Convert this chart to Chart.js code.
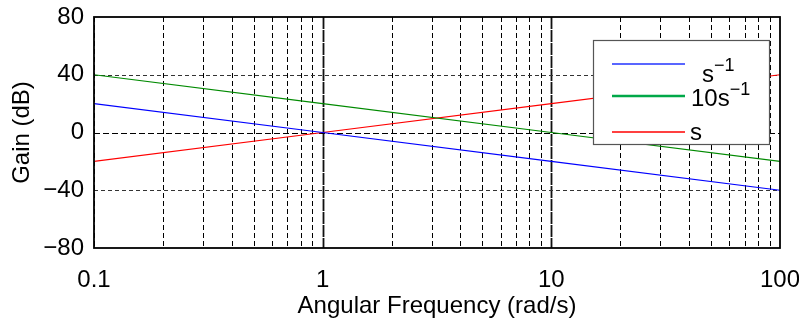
<!DOCTYPE html>
<html><head><meta charset="utf-8">
<script src="https://cdn.jsdelivr.net/npm/chart.js@4"></script>
<style>html,body{margin:0;padding:0;background:#fff;overflow:hidden}</style>
</head><body><canvas id="c" width="799" height="321"></canvas>
<script>
// ---- data ----
const frequencies = [0.1, 1, 10, 100];
const gainInvS   = [20, 0, -20, -40];   // s^-1
const gain10InvS = [40, 20, 0, -20];    // 10 s^-1
const gainS      = [-20, 0, 20, 40];    // s
const seriesBase  = ['s', '10s', 's'];
const seriesSuper = ['\u22121', '\u22121', ''];
const xTickValues = [0.1,0.2,0.3,0.4,0.5,0.6,0.7,0.8,0.9,1,2,3,4,5,6,7,8,9,10,20,30,40,50,60,70,80,90,100];
const xLabelValues = [0.1, 1, 10, 100];
const xTickLabels = ['0.1', '1', '10', '100'];
const yTickValues = [-80, -40, 0, 40, 80];
const yTickLabels = ['\u221280', '\u221240', '0', '40', '80'];
const xTitle = 'Angular Frequency (rad/s)';
const yTitle = 'Gain (dB)';

const FONT = "'Liberation Sans', Arial, sans-serif";
const colors = ['#0000ff', '#008a00', '#ff0000'];
const legendColors = ['#2233ff', '#00a848', '#ff0000'];
const legendWidths = [1.5, 2.5, 1.5];

function pts(ys){ return frequencies.map((f,i)=>({x:f, y:ys[i]})); }

const gridPlugin = {
  id: 'gridPlugin',
  beforeDatasetsDraw(chart){
    const {ctx, chartArea:a, scales:{x, y}} = chart;
    ctx.save();
    ctx.beginPath(); ctx.rect(a.left, a.top, a.right-a.left, a.bottom-a.top); ctx.clip();
    xTickValues.forEach(v=>{
      const px = Math.round(x.getPixelForValue(v)) + 0.5;
      const major = (v===1 || v===10);
      ctx.beginPath();
      ctx.strokeStyle = major ? '#111' : '#000';
      ctx.lineWidth = major ? 1.8 : 1;
      ctx.setLineDash(major ? [12,1] : [5,3]);
      ctx.moveTo(px, a.top); ctx.lineTo(px, a.bottom); ctx.stroke();
    });
    yTickValues.forEach(v=>{
      if (v===-80 || v===80) return;
      const py = Math.round(y.getPixelForValue(v)) + 0.5;
      ctx.beginPath();
      ctx.strokeStyle = v===0 ? '#000' : '#333';
      ctx.lineWidth = 1;
      ctx.setLineDash(v===0 ? [6,3] : [4,3]);
      ctx.moveTo(a.left, py); ctx.lineTo(a.right, py); ctx.stroke();
    });
    ctx.restore();
  },
  afterDatasetsDraw(chart){
    const {ctx, chartArea:a} = chart;
    ctx.save();
    ctx.strokeStyle = '#000'; ctx.lineWidth = 1.8; ctx.setLineDash([]);
    ctx.strokeRect(a.left, a.top, a.right-a.left, a.bottom-a.top);
    // legend
    const bx = a.right - 187, by = a.top + 23, bw = 176, bh = 104;
    ctx.fillStyle = '#fff';
    ctx.fillRect(bx, by, bw, bh);
    ctx.strokeStyle = '#555'; ctx.lineWidth = 1.2;
    ctx.strokeRect(bx+0.5, by+0.5, bw, bh);
    const lineY = [24, 56, 92];
    const textX = [109, 98, 97];
    const baseY = [42, 66, 100];
    chart.data.datasets.forEach((ds, i)=>{
      ctx.beginPath();
      ctx.strokeStyle = legendColors[i]; ctx.lineWidth = legendWidths[i];
      ctx.moveTo(bx+19, by+lineY[i]); ctx.lineTo(bx+92, by+lineY[i]); ctx.stroke();
      ctx.fillStyle = '#000';
      ctx.textBaseline = 'alphabetic'; ctx.textAlign = 'left';
      ctx.font = '24px ' + FONT;
      ctx.fillText(seriesBase[i], bx+textX[i], by+baseY[i]);
      const w = ctx.measureText(seriesBase[i]).width;
      if (seriesSuper[i]) {
        ctx.font = '18px ' + FONT;
        ctx.fillText(seriesSuper[i], bx+textX[i]+w, by+baseY[i]-11);
      }
    });
    ctx.restore();
  }
};

new Chart(document.getElementById('c'), {
  type: 'line',
  data: {
    datasets: [
      {label: 's^-1', data: pts(gainInvS), borderColor: colors[0], borderWidth: 1.1, pointRadius: 0, fill: false, tension: 0},
      {label: '10s^-1', data: pts(gain10InvS), borderColor: colors[1], borderWidth: 1.2, pointRadius: 0, fill: false, tension: 0},
      {label: 's', data: pts(gainS), borderColor: colors[2], borderWidth: 1.1, pointRadius: 0, fill: false, tension: 0}
    ]
  },
  options: {
    responsive: false, animation: false, devicePixelRatio: 1,
    layout: {padding: {top: 17, right: 19, left: 0, bottom: 0}},
    plugins: {legend: {display: false}, tooltip: {enabled: false}},
    scales: {
      x: {
        type: 'logarithmic', min: 0.1, max: 100,
        afterBuildTicks(scale){ scale.ticks = xTickValues.map(v=>({value:v})); },
        afterFit(scale){ scale.height = 73; scale.paddingLeft = 0; scale.paddingRight = 0; },
        grid: {display: false, drawTicks: false},
        border: {display: false},
        ticks: {
          autoSkip: false, maxRotation: 0, padding: 18, color: '#000',
          font: {family: FONT, size: 24},
          callback(v){ const i = xLabelValues.findIndex(d=>Math.abs(d-v)/d < 1e-6); return i>=0 ? xTickLabels[i] : ''; }
        },
        title: {display: true, text: xTitle, color: '#000', font: {family: FONT, size: 24}, padding: {top: 0, bottom: 0}}
      },
      y: {
        min: -80, max: 80,
        afterBuildTicks(scale){ scale.ticks = yTickValues.map(v=>({value:v})); },
        afterFit(scale){ scale.width = 94; scale.paddingTop = 0; scale.paddingBottom = 0; },
        grid: {display: false, drawTicks: false},
        border: {display: false},
        ticks: {
          padding: 10, color: '#000', font: {family: FONT, size: 24},
          callback(v){ const i = yTickValues.indexOf(v); return i>=0 ? yTickLabels[i] : ''; }
        },
        title: {display: true, text: yTitle, color: '#000', font: {family: FONT, size: 24}, padding: {top: 8, bottom: 0}}
      }
    }
  },
  plugins: [gridPlugin]
});
</script>
</body></html>
